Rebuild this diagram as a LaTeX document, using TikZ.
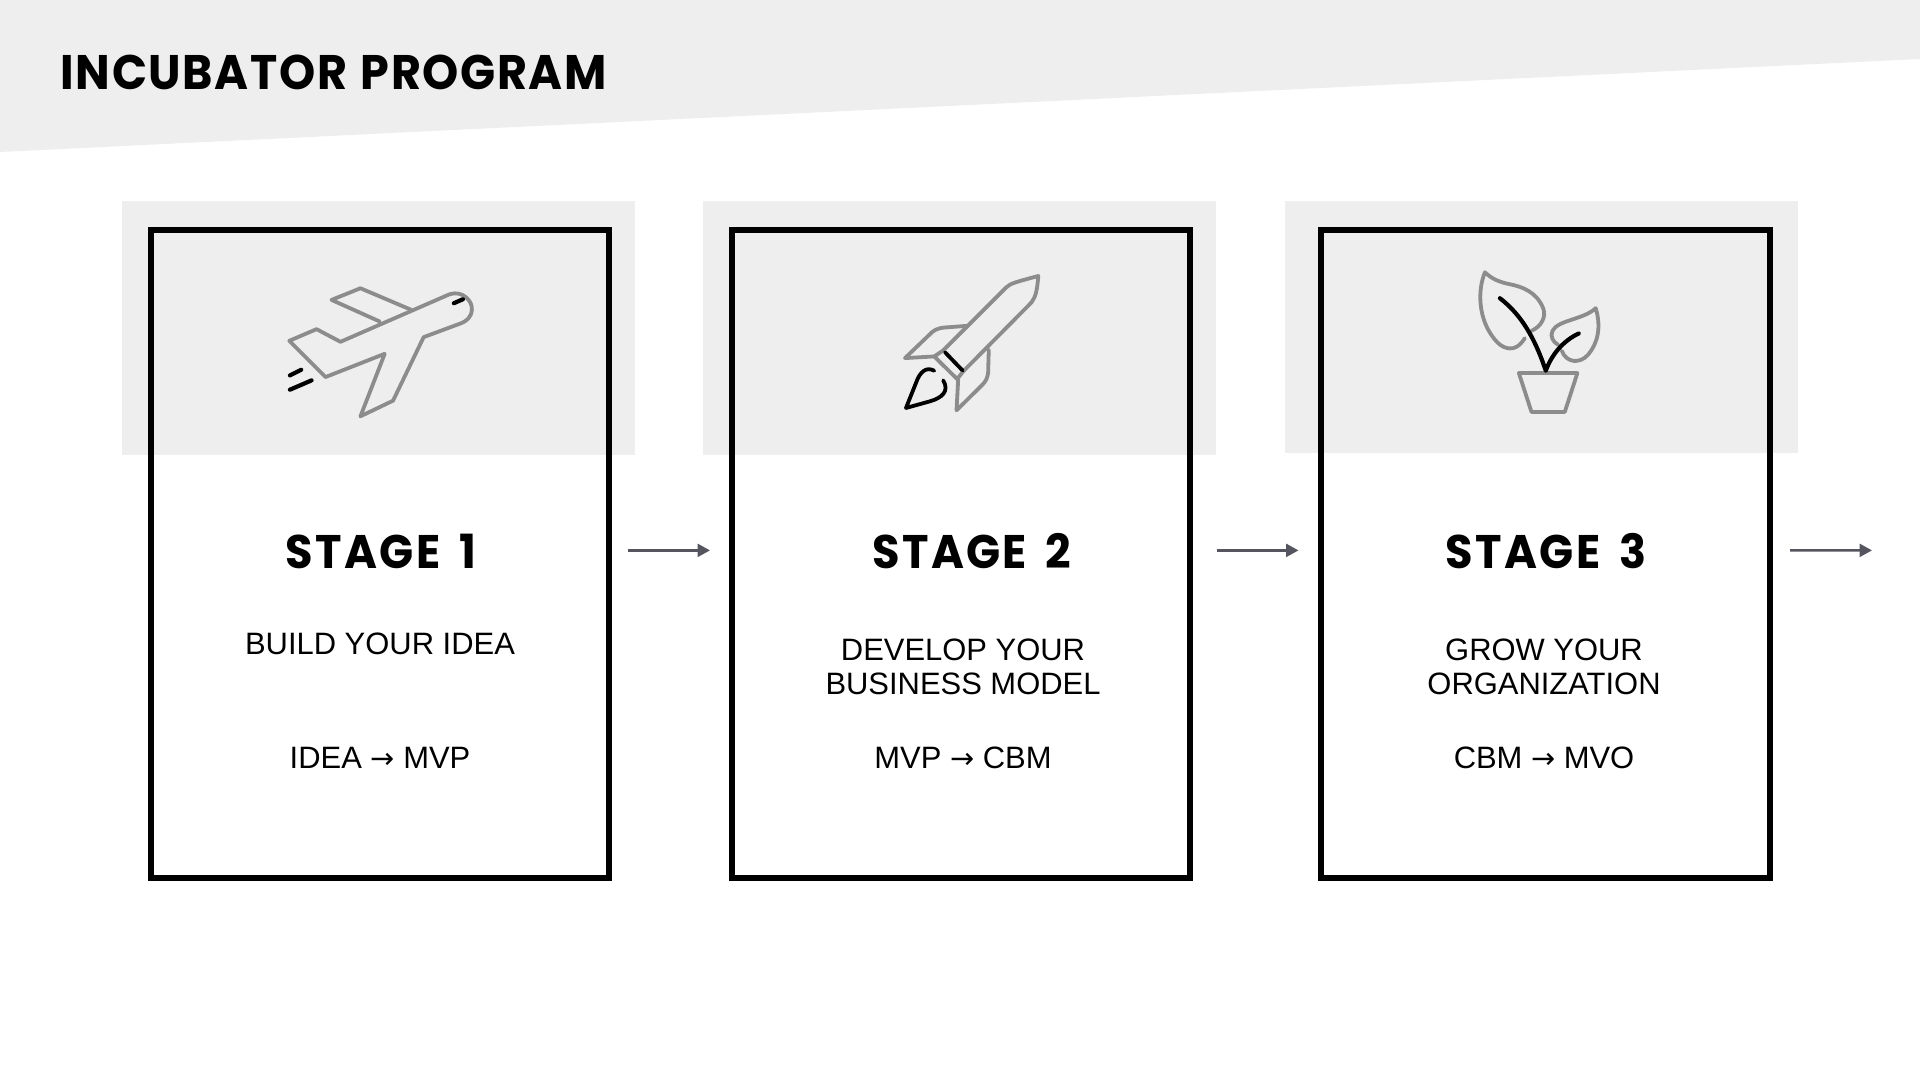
\documentclass[tikz,border=0pt]{standalone}
\usepackage{fontspec}
\setmainfont{Liberation Sans}
\newfontfamily\headfont[FakeStretch=0.95,LetterSpace=3.3,WordSpace=1.2]{Poppins}
\newfontfamily\stagefont[FakeStretch=0.95,LetterSpace=5,WordSpace=1.6]{Poppins}
\newfontfamily\pointerfont{DejaVu Sans}
\usetikzlibrary{arrows.meta}
\definecolor{bandgray}{HTML}{EEEEEE}
\definecolor{icongray}{HTML}{8C8C8C}
\definecolor{arrowgray}{HTML}{55555F}
\def\pointer{{\pointerfont\fontsize{8.2}{9.25}\selectfont→}}
\tikzset{
	stageframe/.style={draw=black, line width=0.6mm, minimum width=#1, minimum height=6.485cm, outer sep=0pt, inner sep=0pt},
	titletext/.style={font=\headfont\bfseries\fontsize{13.8}{16}\selectfont, inner sep=0pt},
	stagetext/.style={font=\stagefont\bfseries\fontsize{13.4}{16}\selectfont, inner sep=0pt},
	bodytext/.style={font=\fontsize{8.8}{9.55}\selectfont, align=center, inner sep=0pt},
	flowarrow/.style={draw=arrowgray, line width=0.25mm, -{Triangle[length=1.25mm, width=1.3mm]}},
	iconline/.style={draw=icongray, line width=0.38mm, line join=round, line cap=round},
	iconblack/.style={draw=black, line width=0.38mm, line join=round, line cap=round},
	iconscope/.style={x=0.00333cm, y=-0.00333cm}
}
\begin{document}
\begin{tikzpicture}
	\useasboundingbox (0, 0) rectangle (19.2, 10.8);
	
	%%%%% BACKGROUND %%%%%
	\fill[bandgray] (0, 10.8) -- (19.2, 10.8) -- (19.2, 10.21) -- (0, 9.28) -- cycle;
	\fill[bandgray] (1.22, 8.79) rectangle (6.35, 6.25);
	\fill[bandgray] (7.03, 8.79) rectangle (12.16, 6.25);
	\fill[bandgray] (12.85, 8.79) rectangle (17.98, 6.27);
	
	\node[titletext, anchor=west] (title) at (0.6, 10.075) {INCUBATOR PROGRAM};
	
	%%%%% FRAMES %%%%%
	\node[stageframe=4.578cm] (frame1) at (3.796, 5.262) {};
	\node[stageframe=4.58cm] (frame2) at (9.61, 5.262) {};
	\node[stageframe=4.49cm] (frame3) at (15.45, 5.262) {};
	
	\coordinate (flowend) at (18.72, 5.296);
	\draw[flowarrow] ([shift={(0.195, 0.034)}]frame1.east) -- ([shift={(-0.22, 0.034)}]frame2.west);
	\draw[flowarrow] ([shift={(0.265, 0.034)}]frame2.east) -- ([shift={(-0.22, 0.034)}]frame3.west);
	\draw[flowarrow] ([shift={(0.205, 0.034)}]frame3.east) -- (flowend);
	
	%%%%% TEXT %%%%%
	\node[stagetext] (stage1) at (3.81, 5.285) {STAGE 1};
	\node[stagetext] (stage2) at (9.72, 5.285) {STAGE 2};
	\node[stagetext] (stage3) at (15.46, 5.285) {STAGE 3};
	
	\node[bodytext] (goal1) at (3.8, 4.365) {BUILD YOUR IDEA};
	\node[bodytext] (goal2) at (9.63, 4.13) {DEVELOP YOUR\\BUSINESS MODEL};
	\node[bodytext] (goal3) at (15.44, 4.13) {GROW YOUR\\ORGANIZATION};
	
	\node[bodytext] (path1) at (3.8, 3.22) {IDEA \pointer{} MVP};
	\node[bodytext] (path2) at (9.63, 3.22) {MVP \pointer{} CBM};
	\node[bodytext] (path3) at (15.44, 3.22) {CBM \pointer{} MVO};
	
	%%%%% PLANE %%%%%
	\begin{scope}[shift={(2.6, 8.2)}, iconscope]
		\draw[iconline] (88, 243) -- (170, 208) -- (242, 246) -- (570, 103) .. controls (610, 90) and (640, 125) .. (637, 150) .. controls (635, 172) and (622, 183) .. (605, 190) -- (492, 232) -- (400, 423) -- (302, 470) -- (375, 282) -- (197, 352) -- cycle;
		\draw[iconline] (360, 185) -- (215, 120) -- (302, 85) -- (455, 150);
		\draw[iconblack, line width=0.42mm] (583, 130) -- (610, 118);
		\draw[iconblack, line width=0.42mm] (90, 347) -- (124, 330);
		\draw[iconblack, line width=0.42mm] (90, 390) -- (155, 362);
	\end{scope}
	
	%%%%% ROCKET %%%%%
	\begin{scope}[shift={(8.8, 8.2)}, iconscope]
		\draw[iconline] (190, 272) -- (380, 82) .. controls (392, 70) and (410, 66) .. (476, 48) .. controls (472, 95) and (468, 110) .. (455, 128) -- (250, 335) -- (232, 358) -- (163, 290) -- cycle;
		\draw[iconline] (262, 198) -- (195, 203) .. controls (170, 205) and (160, 212) .. (145, 228) -- (75, 295) -- (163, 290);
		\draw[iconline] (327, 270) -- (325, 340) .. controls (322, 360) and (315, 368) .. (305, 378) -- (230, 452) -- (235, 360);
		\draw[iconblack] (195, 277) -- (248, 332);
		\draw[iconblack] (163, 333) .. controls (140, 320) and (120, 335) .. (108, 370) -- (78, 445) -- (150, 425) .. controls (185, 415) and (210, 395) .. (190, 362);
	\end{scope}
	
	%%%%% PLANT %%%%%
	\begin{scope}[shift={(14.5, 8.25)}, iconscope]
		\draw[iconline] (245, 228) .. controls (275, 215) and (290, 185) .. (280, 160) .. controls (260, 110) and (215, 95) .. (180, 88) .. controls (150, 82) and (125, 72) .. (105, 52) .. controls (85, 100) and (85, 170) .. (115, 225) .. controls (140, 270) and (165, 285) .. (190, 280) .. controls (205, 277) and (215, 265) .. (225, 250);
		\draw[iconline] (325, 270) .. controls (310, 262) and (300, 245) .. (308, 228) .. controls (325, 195) and (400, 195) .. (438, 160) .. controls (455, 215) and (445, 265) .. (415, 300) .. controls (390, 328) and (350, 325) .. (336, 288);
		\draw[iconline] (207, 355) -- (383, 355) -- (345, 472) -- (245, 472) -- cycle;
		\draw[iconblack, line width=0.42mm] (150, 130) .. controls (215, 180) and (255, 250) .. (288, 348) .. controls (305, 300) and (340, 258) .. (387, 236);
	\end{scope}
\end{tikzpicture}
\end{document}
